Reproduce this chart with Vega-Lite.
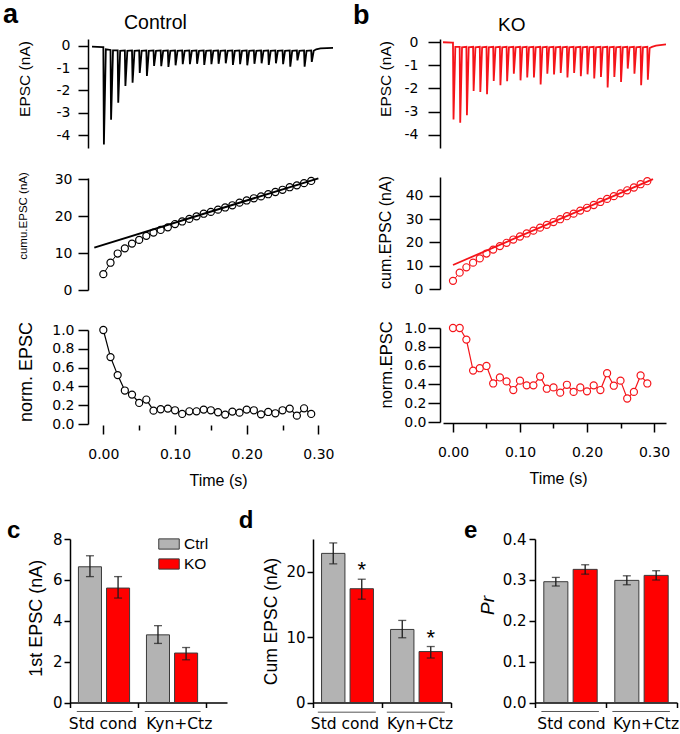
{
  "$schema": "https://vega.github.io/schema/vega-lite/v6.json",
  "background": "white",
  "padding": {"left": 3, "top": 1, "right": 0, "bottom": 0},
  "config": {
    "view": {"stroke": null},
    "font": "Liberation Sans",
    "axis": {"grid": false, "domainColor": "#000", "domainWidth": 1.5, "tickColor": "#000", "tickWidth": 1.5, "labelColor": "#000", "titleColor": "#000", "labelFontSize": 14, "titleFontWeight": "normal", "labelFont": "DejaVu Sans", "titleFont": "Liberation Sans"},
    "title": {"color": "#000", "font": "Liberation Sans"}
  },
  "datasets": {
    "ctrl_trace": [{"t":-0.0158,"v":-0.03},{"t":-0.001,"v":-0.05},
      {"t":0,"v":-0.05},{"t":0.0008,"v":-4.42},{"t":0.0035,"v":-0.15},
      {"t":0.01,"v":-0.18},{"t":0.0108,"v":-3.31},{"t":0.0135,"v":-0.2},
      {"t":0.02,"v":-0.2},{"t":0.0208,"v":-2.55},{"t":0.0235,"v":-0.22},
      {"t":0.03,"v":-0.2},{"t":0.0308,"v":-1.8},{"t":0.0335,"v":-0.22},
      {"t":0.04,"v":-0.2},{"t":0.0408,"v":-1.65},{"t":0.0435,"v":-0.22},
      {"t":0.05,"v":-0.2},{"t":0.0508,"v":-1.21},{"t":0.0535,"v":-0.22},
      {"t":0.06,"v":-0.2},{"t":0.0608,"v":-1.35},{"t":0.0635,"v":-0.22},
      {"t":0.07,"v":-0.2},{"t":0.0708,"v":-0.9},{"t":0.0735,"v":-0.22},
      {"t":0.08,"v":-0.2},{"t":0.0808,"v":-0.91},{"t":0.0835,"v":-0.22},
      {"t":0.09,"v":-0.2},{"t":0.0908,"v":-0.94},{"t":0.0935,"v":-0.22},
      {"t":0.1,"v":-0.2},{"t":0.1008,"v":-0.87},{"t":0.1035,"v":-0.22},
      {"t":0.11,"v":-0.2},{"t":0.1108,"v":-0.82},{"t":0.1135,"v":-0.22},
      {"t":0.12,"v":-0.2},{"t":0.1208,"v":-0.82},{"t":0.1235,"v":-0.22},
      {"t":0.13,"v":-0.2},{"t":0.1308,"v":-0.8},{"t":0.1335,"v":-0.22},
      {"t":0.14,"v":-0.2},{"t":0.1408,"v":-0.85},{"t":0.1435,"v":-0.22},
      {"t":0.15,"v":-0.2},{"t":0.1508,"v":-0.82},{"t":0.1535,"v":-0.22},
      {"t":0.16,"v":-0.2},{"t":0.1608,"v":-0.8},{"t":0.1635,"v":-0.22},
      {"t":0.17,"v":-0.2},{"t":0.1708,"v":-0.78},{"t":0.1735,"v":-0.22},
      {"t":0.18,"v":-0.2},{"t":0.1808,"v":-0.85},{"t":0.1835,"v":-0.22},
      {"t":0.19,"v":-0.2},{"t":0.1908,"v":-0.82},{"t":0.1935,"v":-0.22},
      {"t":0.2,"v":-0.2},{"t":0.2008,"v":-0.87},{"t":0.2035,"v":-0.22},
      {"t":0.21,"v":-0.2},{"t":0.2108,"v":-0.8},{"t":0.2135,"v":-0.22},
      {"t":0.22,"v":-0.2},{"t":0.2208,"v":-0.78},{"t":0.2235,"v":-0.22},
      {"t":0.23,"v":-0.2},{"t":0.2308,"v":-0.85},{"t":0.2335,"v":-0.22},
      {"t":0.24,"v":-0.2},{"t":0.2408,"v":-0.78},{"t":0.2435,"v":-0.22},
      {"t":0.25,"v":-0.2},{"t":0.2508,"v":-0.82},{"t":0.2535,"v":-0.22},
      {"t":0.26,"v":-0.2},{"t":0.2608,"v":-0.93},{"t":0.2635,"v":-0.22},
      {"t":0.27,"v":-0.2},{"t":0.2708,"v":-0.65},{"t":0.2735,"v":-0.22},
      {"t":0.28,"v":-0.2},{"t":0.2808,"v":-0.93},{"t":0.2835,"v":-0.22},
      {"t":0.29,"v":-0.2},{"t":0.2908,"v":-0.72},{"t":0.2935,"v":-0.22},
      {"t":0.297,"v":-0.15},{"t":0.303,"v":-0.11},{"t":0.3204,"v":-0.09}],
    "ko_trace": [{"t":-0.0149,"v":0},{"t":-0.001,"v":-0.02},
      {"t":0,"v":-0.02},{"t":0.0008,"v":-3.35},{"t":0.0035,"v":-0.2},
      {"t":0.01,"v":-0.2},{"t":0.0108,"v":-3.49},{"t":0.0135,"v":-0.22},
      {"t":0.02,"v":-0.2},{"t":0.0208,"v":-3.16},{"t":0.0235,"v":-0.22},
      {"t":0.03,"v":-0.2},{"t":0.0308,"v":-2.11},{"t":0.0335,"v":-0.22},
      {"t":0.04,"v":-0.2},{"t":0.0408,"v":-2.15},{"t":0.0435,"v":-0.22},
      {"t":0.05,"v":-0.2},{"t":0.0508,"v":-2.25},{"t":0.0535,"v":-0.22},
      {"t":0.06,"v":-0.2},{"t":0.0608,"v":-1.68},{"t":0.0635,"v":-0.22},
      {"t":0.07,"v":-0.2},{"t":0.0708,"v":-1.86},{"t":0.0735,"v":-0.22},
      {"t":0.08,"v":-0.2},{"t":0.0808,"v":-1.69},{"t":0.0835,"v":-0.22},
      {"t":0.09,"v":-0.2},{"t":0.0908,"v":-1.36},{"t":0.0935,"v":-0.22},
      {"t":0.1,"v":-0.2},{"t":0.1008,"v":-1.65},{"t":0.1035,"v":-0.22},
      {"t":0.11,"v":-0.2},{"t":0.1108,"v":-1.53},{"t":0.1135,"v":-0.22},
      {"t":0.12,"v":-0.2},{"t":0.1208,"v":-1.53},{"t":0.1235,"v":-0.22},
      {"t":0.13,"v":-0.2},{"t":0.1308,"v":-1.83},{"t":0.1335,"v":-0.22},
      {"t":0.14,"v":-0.2},{"t":0.1408,"v":-1.36},{"t":0.1435,"v":-0.22},
      {"t":0.15,"v":-0.2},{"t":0.1508,"v":-1.4},{"t":0.1535,"v":-0.22},
      {"t":0.16,"v":-0.2},{"t":0.1608,"v":-1.33},{"t":0.1635,"v":-0.22},
      {"t":0.17,"v":-0.2},{"t":0.1708,"v":-1.53},{"t":0.1735,"v":-0.22},
      {"t":0.18,"v":-0.2},{"t":0.1808,"v":-1.33},{"t":0.1835,"v":-0.22},
      {"t":0.19,"v":-0.2},{"t":0.1908,"v":-1.47},{"t":0.1935,"v":-0.22},
      {"t":0.2,"v":-0.2},{"t":0.2008,"v":-1.39},{"t":0.2035,"v":-0.22},
      {"t":0.21,"v":-0.2},{"t":0.2108,"v":-1.57},{"t":0.2135,"v":-0.22},
      {"t":0.22,"v":-0.2},{"t":0.2208,"v":-1.5},{"t":0.2235,"v":-0.22},
      {"t":0.23,"v":-0.2},{"t":0.2308,"v":-1.96},{"t":0.2335,"v":-0.22},
      {"t":0.24,"v":-0.2},{"t":0.2408,"v":-1.5},{"t":0.2435,"v":-0.22},
      {"t":0.25,"v":-0.2},{"t":0.2508,"v":-1.72},{"t":0.2535,"v":-0.22},
      {"t":0.26,"v":-0.2},{"t":0.2608,"v":-1.14},{"t":0.2635,"v":-0.22},
      {"t":0.27,"v":-0.2},{"t":0.2708,"v":-1.36},{"t":0.2735,"v":-0.22},
      {"t":0.28,"v":-0.2},{"t":0.2808,"v":-1.86},{"t":0.2835,"v":-0.22},
      {"t":0.29,"v":-0.2},{"t":0.2908,"v":-1.62},{"t":0.2935,"v":-0.25},
      {"t":0.297,"v":-0.2},{"t":0.303,"v":-0.15},{"t":0.3179,"v":-0.09}],
    "ctrl_cum": [{"t":0,"v":4.3},{"t":0.01,"v":7.4},{"t":0.02,"v":9.9},{"t":0.03,"v":11.3},{"t":0.04,"v":12.6},{"t":0.05,"v":13.6},{"t":0.06,"v":14.7},{"t":0.07,"v":15.6},{"t":0.08,"v":16.3},{"t":0.09,"v":17.0},{"t":0.1,"v":17.9},{"t":0.11,"v":18.6},{"t":0.12,"v":19.3},{"t":0.13,"v":20.0},{"t":0.14,"v":20.7},{"t":0.15,"v":21.2},{"t":0.16,"v":21.8},{"t":0.17,"v":22.4},{"t":0.18,"v":23.0},{"t":0.19,"v":23.7},{"t":0.2,"v":24.3},{"t":0.21,"v":24.9},{"t":0.22,"v":25.4},{"t":0.23,"v":26.0},{"t":0.24,"v":26.6},{"t":0.25,"v":27.2},{"t":0.26,"v":27.9},{"t":0.27,"v":28.4},{"t":0.28,"v":29.0},{"t":0.29,"v":29.6}],
    "ko_cum": [{"t":0,"v":3.5},{"t":0.01,"v":7.0},{"t":0.02,"v":9.3},{"t":0.03,"v":11.3},{"t":0.04,"v":13.1},{"t":0.05,"v":15.2},{"t":0.06,"v":16.9},{"t":0.07,"v":18.4},{"t":0.08,"v":19.8},{"t":0.09,"v":21.2},{"t":0.1,"v":22.5},{"t":0.11,"v":23.8},{"t":0.12,"v":25.0},{"t":0.13,"v":26.3},{"t":0.14,"v":27.5},{"t":0.15,"v":28.7},{"t":0.16,"v":29.9},{"t":0.17,"v":31.2},{"t":0.18,"v":32.3},{"t":0.19,"v":33.6},{"t":0.2,"v":34.8},{"t":0.21,"v":36.0},{"t":0.22,"v":37.3},{"t":0.23,"v":38.6},{"t":0.24,"v":39.8},{"t":0.25,"v":41.0},{"t":0.26,"v":42.3},{"t":0.27,"v":43.5},{"t":0.28,"v":44.9},{"t":0.29,"v":46.2}],
    "ctrl_fit": [{"t":-0.0126,"v":11.5},{"t":0.3,"v":30.3}],
    "ko_fit": [{"t":0,"v":10.3},{"t":0.2985,"v":47.1}],
    "ctrl_norm": [{"t":0,"v":1.0},{"t":0.01,"v":0.712},{"t":0.02,"v":0.52},{"t":0.03,"v":0.356},{"t":0.04,"v":0.313},{"t":0.05,"v":0.224},{"t":0.06,"v":0.26},{"t":0.07,"v":0.142},{"t":0.08,"v":0.157},{"t":0.09,"v":0.164},{"t":0.1,"v":0.146},{"t":0.11,"v":0.107},{"t":0.12,"v":0.135},{"t":0.13,"v":0.135},{"t":0.14,"v":0.153},{"t":0.15,"v":0.146},{"t":0.16,"v":0.125},{"t":0.17,"v":0.1},{"t":0.18,"v":0.132},{"t":0.19,"v":0.121},{"t":0.2,"v":0.153},{"t":0.21,"v":0.146},{"t":0.22,"v":0.103},{"t":0.23,"v":0.128},{"t":0.24,"v":0.114},{"t":0.25,"v":0.146},{"t":0.26,"v":0.164},{"t":0.27,"v":0.089},{"t":0.28,"v":0.167},{"t":0.29,"v":0.107}],
    "ko_norm": [{"t":0,"v":1.0},{"t":0.01,"v":1.0},{"t":0.02,"v":0.877},{"t":0.03,"v":0.547},{"t":0.04,"v":0.572},{"t":0.05,"v":0.596},{"t":0.06,"v":0.41},{"t":0.07,"v":0.474},{"t":0.08,"v":0.432},{"t":0.09,"v":0.34},{"t":0.1,"v":0.44},{"t":0.11,"v":0.39},{"t":0.12,"v":0.39},{"t":0.13,"v":0.484},{"t":0.14,"v":0.354},{"t":0.15,"v":0.368},{"t":0.16,"v":0.312},{"t":0.17,"v":0.396},{"t":0.18,"v":0.32},{"t":0.19,"v":0.368},{"t":0.2,"v":0.326},{"t":0.21,"v":0.39},{"t":0.22,"v":0.34},{"t":0.23,"v":0.519},{"t":0.24,"v":0.386},{"t":0.25,"v":0.44},{"t":0.26,"v":0.25},{"t":0.27,"v":0.32},{"t":0.28,"v":0.495},{"t":0.29,"v":0.41}],
    "c": [{"group":"Std cond","geno":"Ctrl","mean":6.64,"lo":6.16,"hi":7.18,"sig":""},{"group":"Std cond","geno":"KO","mean":5.6,"lo":5.11,"hi":6.16,"sig":""},{"group":"Kyn+Ctz","geno":"Ctrl","mean":3.31,"lo":2.89,"hi":3.76,"sig":""},{"group":"Kyn+Ctz","geno":"KO","mean":2.42,"lo":2.09,"hi":2.69,"sig":""}],
    "d": [{"group":"Std cond","geno":"Ctrl","mean":22.8,"lo":21.2,"hi":24.4,"sig":""},{"group":"Std cond","geno":"KO","mean":17.4,"lo":15.8,"hi":18.85,"sig":"*"},{"group":"Kyn+Ctz","geno":"Ctrl","mean":11.17,"lo":9.9,"hi":12.55,"sig":""},{"group":"Kyn+Ctz","geno":"KO","mean":7.79,"lo":6.8,"hi":8.56,"sig":"*"}],
    "e": [{"group":"Std cond","geno":"Ctrl","mean":0.2955,"lo":0.285,"hi":0.306,"sig":""},{"group":"Std cond","geno":"KO","mean":0.3257,"lo":0.314,"hi":0.337,"sig":""},{"group":"Kyn+Ctz","geno":"Ctrl","mean":0.2988,"lo":0.288,"hi":0.31,"sig":""},{"group":"Kyn+Ctz","geno":"KO","mean":0.311,"lo":0.2996,"hi":0.3224,"sig":""}]
  },
  "spacing": 21,
  "resolve": {"scale": {"x": "independent", "y": "independent", "color": "independent", "xOffset": "independent"}, "legend": {"color": "independent"}},
  "vconcat": [
    {
      "spacing": 16,
      "resolve": {"scale": {"x": "independent", "y": "independent"}},
      "hconcat": [
        {
          "title": {"text": "a", "anchor": "start", "frame": "group", "fontSize": 27, "fontWeight": "bold", "baseline": "alphabetic", "offset": 0, "dx": -67, "dy": 37},
          "spacing": 22,
          "resolve": {"scale": {"x": "independent", "y": "independent"}},
          "vconcat": [
            {
              "width": 263, "height": 109,
              "title": {"text": "Control", "anchor": "start", "frame": "group", "fontSize": 19.5, "fontWeight": "normal", "baseline": "alphabetic", "offset": 0, "dx": 54, "dy": 10},
              "data": {"name": "ctrl_trace"},
              "mark": {"type": "line", "color": "#000000", "strokeWidth": 1.8},
              "encoding": {
                "x": {"field": "t", "type": "quantitative", "scale": {"domain": [-0.0465, 0.3204], "nice": false, "zero": false}, "axis": null},
                "y": {"field": "v", "type": "quantitative", "scale": {"domain": [-4.58, 0.31], "nice": false, "zero": false}, "axis": {"values": [0, -1, -2, -3, -4], "labelExpr": "datum.value == 0 ? '0' : '-' + abs(datum.value)", "title": "EPSC (nA)", "titleFontSize": 15.5, "titleY": 39.5, "offset": -18, "tickSize": 10, "labelPadding": 8, "titlePadding": 23.4}}
              }
            },
            {
              "spacing": 24,
              "resolve": {"scale": {"x": "independent", "y": "independent"}},
              "vconcat": [
                {
                  "width": 263, "height": 112,
                  "encoding": {
                    "x": {"field": "t", "type": "quantitative", "scale": {"domain": [-0.0465, 0.3204], "nice": false, "zero": false}, "axis": null},
                    "y": {"field": "v", "type": "quantitative", "scale": {"domain": [0, 30.4], "nice": false, "zero": false}, "axis": {"values": [0, 10, 20, 30], "title": "cumu.EPSC (nA)", "titleFontSize": 11.5, "titleY": 37.5, "offset": -18, "tickSize": 10, "labelPadding": 6, "titlePadding": 25.6}}
                  },
                  "layer": [
                    {"data": {"name": "ctrl_cum"}, "mark": {"type": "line", "color": "#000", "strokeWidth": 1}},
                    {"data": {"name": "ctrl_cum"}, "mark": {"type": "point", "shape": "circle", "filled": true, "fill": "white", "stroke": "#000", "strokeWidth": 1.2, "size": 50, "opacity": 1}},
                    {"data": {"name": "ctrl_fit"}, "mark": {"type": "line", "color": "#000", "strokeWidth": 2}},
                    {"data": {"values": [{}]}, "mark": {"type": "text", "text": "RRP =11.5 nA", "align": "left", "baseline": "alphabetic", "fontSize": 16.3}, "encoding": {"x": {"datum": 0.135, "type": "quantitative"}, "y": {"datum": 8.7, "type": "quantitative"}}},
                    {"data": {"values": [{}]}, "mark": {"type": "text", "text": "P", "align": "left", "baseline": "alphabetic", "fontSize": 16.3, "fontStyle": "italic"}, "encoding": {"x": {"datum": 0.135, "type": "quantitative"}, "y": {"datum": 4.16, "type": "quantitative"}}},
                    {"data": {"values": [{}]}, "mark": {"type": "text", "text": "r", "align": "left", "baseline": "alphabetic", "fontSize": 11, "fontStyle": "italic"}, "encoding": {"x": {"datum": 0.148, "type": "quantitative"}, "y": {"datum": 3.26, "type": "quantitative"}}},
                    {"data": {"values": [{}]}, "mark": {"type": "text", "text": "= 0.37", "align": "left", "baseline": "alphabetic", "fontSize": 16.3}, "encoding": {"x": {"datum": 0.16, "type": "quantitative"}, "y": {"datum": 4.16, "type": "quantitative"}}}
                  ]
                },
                {
                  "width": 263, "height": 94,
                  "data": {"name": "ctrl_norm"},
                  "encoding": {
                    "x": {"field": "t", "type": "quantitative", "scale": {"domain": [-0.0465, 0.3204], "nice": false, "zero": false}, "axis": {"domain": false, "values": [0, 0.05, 0.1, 0.15, 0.2, 0.25, 0.3], "labelExpr": "round(datum.value*100) % 10 == 0 ? format(datum.value, '.2f') : ''", "tickSize": {"condition": {"test": "round(datum.value*100) % 10 == 0", "value": 9}, "value": 5}, "title": "Time (s)", "titleFontSize": 16, "titleX": 148, "offset": 1, "labelPadding": 13, "titlePadding": 11}},
                    "y": {"field": "v", "type": "quantitative", "scale": {"domain": [0, 1], "nice": false, "zero": false}, "axis": {"values": [0, 0.2, 0.4, 0.6, 0.8, 1.0], "format": ".1f", "title": "norm. EPSC", "titleFontSize": 18, "titleY": 41.5, "offset": -18, "tickSize": 10, "labelPadding": 4, "titlePadding": 16.6}}
                  },
                  "layer": [
                    {"data": {"values": [{}]}, "mark": {"type": "rule", "color": "#000", "strokeWidth": 1.5, "yOffset": 1}, "encoding": {"x": {"datum": -0.0158, "type": "quantitative"}, "x2": {"datum": 0.3204}, "y": {"datum": 0, "type": "quantitative"}}},
                    {"mark": {"type": "line", "color": "#000", "strokeWidth": 1.2}},
                    {"mark": {"type": "point", "shape": "circle", "filled": true, "fill": "white", "stroke": "#000", "strokeWidth": 1.2, "size": 50, "opacity": 1}}
                  ]
                }
              ]
            }
          ]
        },
        {
          "title": {"text": "b", "anchor": "start", "frame": "group", "fontSize": 27, "fontWeight": "bold", "baseline": "alphabetic", "offset": 0, "dx": -90, "dy": 35.2},
          "spacing": 27,
          "resolve": {"scale": {"x": "independent", "y": "independent"}},
          "vconcat": [
            {
              "width": 223, "height": 109,
              "title": {"text": "KO", "anchor": "start", "frame": "group", "fontSize": 19, "fontWeight": "normal", "baseline": "alphabetic", "offset": 0, "dx": 55, "dy": 15},
              "data": {"name": "ko_trace"},
              "mark": {"type": "line", "color": "#f5141a", "strokeWidth": 1.8},
              "encoding": {
                "x": {"field": "t", "type": "quantitative", "scale": {"domain": [-0.0149, 0.3179], "nice": false, "zero": false}, "axis": null},
                "y": {"field": "v", "type": "quantitative", "scale": {"domain": [-4.58, 0.14], "nice": false, "zero": false}, "axis": {"values": [0, -1, -2, -3, -4], "labelExpr": "datum.value == 0 ? '0' : '-' + abs(datum.value)", "title": "EPSC (nA)", "titleFontSize": 15.5, "titleY": 39.5, "offset": 3, "tickSize": 12, "labelPadding": 10, "titlePadding": 10.7}}
              }
            },
            {
              "spacing": 24,
              "resolve": {"scale": {"x": "independent", "y": "independent"}},
              "vconcat": [
                {
                  "width": 223, "height": 112,
                  "encoding": {
                    "x": {"field": "t", "type": "quantitative", "scale": {"domain": [-0.0149, 0.3179], "nice": false, "zero": false}, "axis": null},
                    "y": {"field": "v", "type": "quantitative", "scale": {"domain": [0, 48], "nice": false, "zero": false}, "axis": {"values": [0, 10, 20, 30, 40], "title": "cum.EPSC (nA)", "titleFontSize": 16, "titleY": 55, "offset": 3, "tickSize": 11, "labelPadding": 6, "titlePadding": 11.4}}
                  },
                  "layer": [
                    {"data": {"name": "ko_cum"}, "mark": {"type": "line", "color": "#f5141a", "strokeWidth": 1}},
                    {"data": {"name": "ko_cum"}, "mark": {"type": "point", "shape": "circle", "filled": true, "fill": "white", "stroke": "#f5141a", "strokeWidth": 1.2, "size": 50, "opacity": 1}},
                    {"data": {"name": "ko_fit"}, "mark": {"type": "line", "color": "#f5141a", "strokeWidth": 1.8}},
                    {"data": {"values": [{}]}, "mark": {"type": "text", "text": "RRP = 9.8  nA", "align": "left", "baseline": "alphabetic", "fontSize": 16.3}, "encoding": {"x": {"datum": 0.134, "type": "quantitative"}, "y": {"datum": 11.56, "type": "quantitative"}}},
                    {"data": {"values": [{}]}, "mark": {"type": "text", "text": "P", "align": "left", "baseline": "alphabetic", "fontSize": 16.3, "fontStyle": "italic"}, "encoding": {"x": {"datum": 0.134, "type": "quantitative"}, "y": {"datum": 3.73, "type": "quantitative"}}},
                    {"data": {"values": [{}]}, "mark": {"type": "text", "text": "r", "align": "left", "baseline": "alphabetic", "fontSize": 11, "fontStyle": "italic"}, "encoding": {"x": {"datum": 0.1467, "type": "quantitative"}, "y": {"datum": 2.1, "type": "quantitative"}}},
                    {"data": {"values": [{}]}, "mark": {"type": "text", "text": "= 0.34", "align": "left", "baseline": "alphabetic", "fontSize": 16.3}, "encoding": {"x": {"datum": 0.1667, "type": "quantitative"}, "y": {"datum": 3.73, "type": "quantitative"}}}
                  ]
                },
                {
                  "width": 223, "height": 94,
                  "data": {"name": "ko_norm"},
                  "encoding": {
                    "x": {"field": "t", "type": "quantitative", "scale": {"domain": [-0.0149, 0.3179], "nice": false, "zero": false}, "axis": {"values": [0, 0.05, 0.1, 0.15, 0.2, 0.25, 0.3], "labelExpr": "round(datum.value*100) % 10 == 0 ? format(datum.value, '.2f') : ''", "tickSize": {"condition": {"test": "round(datum.value*100) % 10 == 0", "value": 9}, "value": 5}, "title": "Time (s)", "titleFontSize": 16, "titleX": 115, "offset": 1, "labelPadding": 13, "titlePadding": 11}},
                    "y": {"field": "v", "type": "quantitative", "scale": {"domain": [0, 1], "nice": false, "zero": false}, "axis": {"values": [0, 0.2, 0.4, 0.6, 0.8, 1.0], "format": ".1f", "title": "norm.EPSC", "titleFontSize": 16.5, "titleY": 36.5, "offset": 3, "tickSize": 12, "labelPadding": 2, "titlePadding": 9.4}}
                  },
                  "layer": [
                    {"mark": {"type": "line", "color": "#f5141a", "strokeWidth": 1.2}},
                    {"mark": {"type": "point", "shape": "circle", "filled": true, "fill": "white", "stroke": "#f5141a", "strokeWidth": 1.2, "size": 50, "opacity": 1}}
                  ]
                }
              ]
            }
          ]
        }
      ]
    },
    {
      "spacing": 11,
      "resolve": {"scale": {"x": "independent", "y": "independent", "color": "independent", "xOffset": "independent"}, "legend": {"color": "independent"}},
      "hconcat": [
        {
          "width": 157, "height": 163.5,
          "title": {"text": "c", "anchor": "start", "frame": "group", "fontSize": 24, "fontWeight": "bold", "baseline": "alphabetic", "offset": 0, "dx": -63, "dy": 29.5},
          "data": {"name": "c"},
          "encoding": {"x": {"field": "group", "type": "nominal", "sort": ["Std cond", "Kyn+Ctz"], "scale": {"paddingInner": 0, "paddingOuter": 0.154, "align": 0}, "axis": {"title": null, "labelAngle": 0, "labelFontSize": 15.5, "tickBand": "extent", "tickSize": 5, "labelPadding": 9, "labelOffset": {"condition": {"test": "datum.value == 'Kyn+Ctz'", "value": 6.7}, "value": -1.5}}}},
          "layer": [
            {"mark": {"type": "bar", "stroke": "#3a3a3a", "strokeWidth": 1},
             "encoding": {"xOffset": {"field": "geno", "type": "nominal", "sort": ["Ctrl", "KO"], "scale": {"paddingInner": 0.18, "paddingOuter": 0.3}},
              "y": {"field": "mean", "type": "quantitative", "title": "1st EPSC (nA)", "scale": {"domain": [0, 8], "nice": false}, "axis": {"values": [0,1,2,3,4,5,6,7,8], "labelExpr": "datum.value % 2 == 0 ? datum.label : ''", "tickSize": {"condition": {"test": "datum.value % 2 == 0", "value": 6}, "value": 3}, "labelFontSize": 15, "titleFontSize": 18, "titleY": 78.7, "labelPadding": 2, "titlePadding": 6.7}},
              "color": {"field": "geno", "type": "nominal", "scale": {"domain": ["Ctrl", "KO"], "range": ["#b3b3b3", "#ff0000"]}, "legend": {"title": null, "orient": "none", "legendX": 88, "legendY": -6, "symbolType": "M-1,-0.5H1V0.5H-1Z", "symbolSize": 420, "symbolStrokeColor": "#3a3a3a", "symbolStrokeWidth": 1, "labelFontSize": 15.5, "labelOffset": 4, "rowPadding": 0, "padding": 0}}}},
            {"mark": {"type": "rule", "color": "#1a1a1a", "strokeWidth": 1.3},
             "encoding": {"xOffset": {"field": "geno", "type": "nominal", "sort": ["Ctrl", "KO"]}, "y": {"field": "lo", "type": "quantitative", "title": "1st EPSC (nA)"}, "y2": {"field": "hi"}}},
            {"mark": {"type": "tick", "color": "#1a1a1a", "size": 8, "thickness": 1.3},
             "encoding": {"xOffset": {"field": "geno", "type": "nominal", "sort": ["Ctrl", "KO"]}, "y": {"field": "hi", "type": "quantitative", "title": "1st EPSC (nA)"}}},
            {"mark": {"type": "tick", "color": "#1a1a1a", "size": 8, "thickness": 1.3},
             "encoding": {"xOffset": {"field": "geno", "type": "nominal", "sort": ["Ctrl", "KO"]}, "y": {"field": "lo", "type": "quantitative", "title": "1st EPSC (nA)"}}},
            {"transform": [{"filter": "datum.geno == 'Ctrl'"}], "mark": {"type": "rule", "color": "#555", "strokeWidth": 1},
             "encoding": {"x": {"field": "group", "type": "nominal", "sort": ["Std cond", "Kyn+Ctz"], "bandPosition": 0.1}, "x2": {"field": "group", "bandPosition": 0.92}, "y": {"datum": -0.44, "type": "quantitative"}}}
          ]
        },
        {
          "width": 138, "height": 163.5,
          "title": {"text": "d", "anchor": "start", "frame": "group", "fontSize": 24, "fontWeight": "bold", "baseline": "alphabetic", "offset": 0, "dx": -74.3, "dy": 29.5},
          "data": {"name": "d"},
          "encoding": {"x": {"field": "group", "type": "nominal", "sort": ["Std cond", "Kyn+Ctz"], "scale": {"paddingInner": 0, "paddingOuter": 0}, "axis": {"title": null, "labelAngle": 0, "labelFontSize": 15.5, "tickBand": "extent", "tickSize": 5, "labelPadding": 9, "labelOffset": {"condition": {"test": "datum.value == 'Kyn+Ctz'", "value": 3}, "value": -3}}}},
          "layer": [
            {"mark": {"type": "bar", "stroke": "#3a3a3a", "strokeWidth": 1},
             "encoding": {"xOffset": {"field": "geno", "type": "nominal", "sort": ["Ctrl", "KO"], "scale": {"paddingInner": 0.18, "paddingOuter": 0.3}},
              "y": {"field": "mean", "type": "quantitative", "title": "Cum EPSC (nA)", "scale": {"domain": [0, 25], "nice": false}, "axis": {"values": [0,2.5,5,7.5,10,12.5,15,17.5,20,22.5,25], "labelExpr": "datum.value % 5 == 0 ? datum.label : ''", "tickSize": {"condition": {"test": "datum.value % 5 == 0", "value": 6}, "value": 3}, "labelFontSize": 15, "titleFontSize": 17.5, "titleY": 82, "labelPadding": 2, "titlePadding": 5.2}},
              "color": {"field": "geno", "type": "nominal", "scale": {"domain": ["Ctrl", "KO"], "range": ["#b3b3b3", "#ff0000"]}, "legend": null}}},
            {"mark": {"type": "rule", "color": "#1a1a1a", "strokeWidth": 1.3},
             "encoding": {"xOffset": {"field": "geno", "type": "nominal", "sort": ["Ctrl", "KO"]}, "y": {"field": "lo", "type": "quantitative", "title": "Cum EPSC (nA)"}, "y2": {"field": "hi"}}},
            {"mark": {"type": "tick", "color": "#1a1a1a", "size": 8, "thickness": 1.3},
             "encoding": {"xOffset": {"field": "geno", "type": "nominal", "sort": ["Ctrl", "KO"]}, "y": {"field": "hi", "type": "quantitative", "title": "Cum EPSC (nA)"}}},
            {"mark": {"type": "tick", "color": "#1a1a1a", "size": 8, "thickness": 1.3},
             "encoding": {"xOffset": {"field": "geno", "type": "nominal", "sort": ["Ctrl", "KO"]}, "y": {"field": "lo", "type": "quantitative", "title": "Cum EPSC (nA)"}}},
            {"mark": {"type": "text", "fontSize": 22, "baseline": "alphabetic", "dy": -2, "color": "#000"},
             "encoding": {"xOffset": {"field": "geno", "type": "nominal", "sort": ["Ctrl", "KO"]}, "y": {"field": "hi", "type": "quantitative", "title": "Cum EPSC (nA)"}, "text": {"field": "sig"}}},
            {"transform": [{"filter": "datum.geno == 'Ctrl'"}], "mark": {"type": "rule", "color": "#555", "strokeWidth": 1},
             "encoding": {"x": {"field": "group", "type": "nominal", "sort": ["Std cond", "Kyn+Ctz"], "bandPosition": 0.07}, "x2": {"field": "group", "bandPosition": 0.91}, "y": {"datum": -1.48, "type": "quantitative"}}}
          ]
        },
        {
          "width": 142, "height": 163.5,
          "title": {"text": "e", "anchor": "start", "frame": "group", "fontSize": 24, "fontWeight": "bold", "baseline": "alphabetic", "offset": 0, "dx": -71, "dy": 29.5},
          "data": {"name": "e"},
          "encoding": {"x": {"field": "group", "type": "nominal", "sort": ["Std cond", "Kyn+Ctz"], "scale": {"paddingInner": 0, "paddingOuter": 0}, "axis": {"title": null, "labelAngle": 0, "labelFontSize": 15.5, "tickBand": "extent", "tickSize": 5, "labelPadding": 9, "labelOffset": {"condition": {"test": "datum.value == 'Kyn+Ctz'", "value": 4}, "value": 0.5}}}},
          "layer": [
            {"mark": {"type": "bar", "stroke": "#3a3a3a", "strokeWidth": 1},
             "encoding": {"xOffset": {"field": "geno", "type": "nominal", "sort": ["Ctrl", "KO"], "scale": {"paddingInner": 0.18, "paddingOuter": 0.3}},
              "y": {"field": "mean", "type": "quantitative", "title": "Pr", "scale": {"domain": [0, 0.4], "nice": false}, "axis": {"values": [0,0.05,0.1,0.15,0.2,0.25,0.3,0.35,0.4], "labelExpr": "round(datum.value*100) % 10 == 0 ? format(datum.value, '.1f') : ''", "tickSize": {"condition": {"test": "round(datum.value*100) % 10 == 0", "value": 6}, "value": 3}, "labelFontSize": 15, "titleFontSize": 19, "titleFontStyle": "italic", "titleY": 66, "labelPadding": 3, "titlePadding": 5.1}},
              "color": {"field": "geno", "type": "nominal", "scale": {"domain": ["Ctrl", "KO"], "range": ["#b3b3b3", "#ff0000"]}, "legend": null}}},
            {"mark": {"type": "rule", "color": "#1a1a1a", "strokeWidth": 1.3},
             "encoding": {"xOffset": {"field": "geno", "type": "nominal", "sort": ["Ctrl", "KO"]}, "y": {"field": "lo", "type": "quantitative", "title": "Pr"}, "y2": {"field": "hi"}}},
            {"mark": {"type": "tick", "color": "#1a1a1a", "size": 8, "thickness": 1.3},
             "encoding": {"xOffset": {"field": "geno", "type": "nominal", "sort": ["Ctrl", "KO"]}, "y": {"field": "hi", "type": "quantitative", "title": "Pr"}}},
            {"mark": {"type": "tick", "color": "#1a1a1a", "size": 8, "thickness": 1.3},
             "encoding": {"xOffset": {"field": "geno", "type": "nominal", "sort": ["Ctrl", "KO"]}, "y": {"field": "lo", "type": "quantitative", "title": "Pr"}}},
            {"transform": [{"filter": "datum.geno == 'Ctrl'"}], "mark": {"type": "rule", "color": "#555", "strokeWidth": 1},
             "encoding": {"x": {"field": "group", "type": "nominal", "sort": ["Std cond", "Kyn+Ctz"], "bandPosition": 0.09}, "x2": {"field": "group", "bandPosition": 0.9}, "y": {"datum": -0.022, "type": "quantitative"}}}
          ]
        }
      ]
    }
  ]
}
